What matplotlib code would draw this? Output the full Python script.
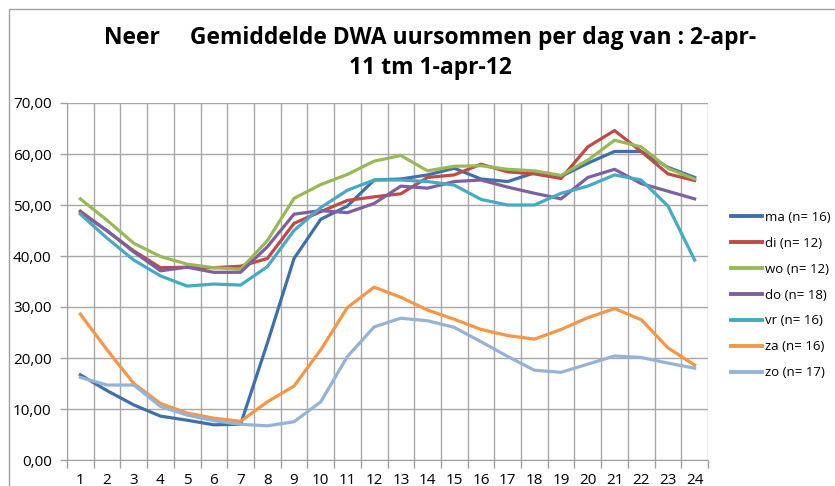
import numpy as np
import matplotlib
matplotlib.use('Agg')
import matplotlib.pyplot as plt
from matplotlib.patches import Rectangle

hours = list(range(1, 25))

ma = [16.7, 13.6, 10.8, 8.6, 7.8, 6.9, 7.0, 22.9, 39.5, 47.2, 49.8, 54.9,
      55.1, 55.9, 57.2, 55.1, 54.6, 56.3, 55.6, 58.2, 60.5, 60.5, 57.4, 55.4]
di = [48.8, 44.9, 41.0, 37.7, 37.8, 37.7, 38.0, 39.5, 46.4, 48.7, 50.9, 51.6,
      52.2, 55.4, 55.9, 58.0, 56.5, 56.1, 55.2, 61.4, 64.6, 60.5, 56.1, 54.8]
wo = [51.2, 47.0, 42.5, 39.9, 38.4, 37.7, 37.4, 43.0, 51.3, 54.0, 56.0, 58.6,
      59.7, 56.7, 57.6, 57.7, 57.0, 56.7, 55.8, 58.8, 62.7, 61.4, 57.2, 55.1]
do = [48.5, 45.0, 40.8, 37.1, 37.8, 36.8, 36.8, 41.8, 48.2, 48.9, 48.5, 50.3,
      53.7, 53.3, 54.6, 54.9, 53.5, 52.3, 51.2, 55.4, 57.0, 54.2, 52.7, 51.2]
vr = [48.2, 43.5, 39.2, 36.1, 34.1, 34.5, 34.3, 37.9, 45.0, 49.5, 52.9, 54.9,
      54.9, 54.6, 53.9, 51.1, 50.0, 50.0, 52.3, 53.7, 55.9, 54.9, 49.8, 39.2]
za = [28.6, 21.6, 15.0, 11.1, 9.2, 8.2, 7.6, 11.4, 14.5, 21.6, 29.9, 33.9,
      31.9, 29.4, 27.6, 25.6, 24.4, 23.7, 25.6, 27.9, 29.7, 27.5, 22.0, 18.6]
zo = [16.2, 14.7, 14.7, 10.5, 8.8, 7.7, 7.0, 6.7, 7.5, 11.4, 20.3, 26.1,
      27.8, 27.3, 26.0, 23.2, 20.3, 17.6, 17.2, 18.8, 20.4, 20.1, 19.0, 18.0]

labels = ['ma (n= 16)', 'di (n= 12)', 'wo (n= 12)', 'do (n= 18)',
          'vr (n= 16)', 'za (n= 16)', 'zo (n= 17)']
colors = ['#3F70AA', '#BE4B48', '#98B954', '#7D60A0', '#46AAC5', '#F79646', '#95B3D7']

plt.rcParams['font.family'] = ['Open Sans', 'DejaVu Sans']

fig = plt.figure(figsize=(8.35, 4.86), dpi=100)
fig.patches.append(Rectangle((9 / 835, -0.1), 1.0, 1 - 9 / 486 + 0.1,
                             transform=fig.transFigure, fill=False,
                             edgecolor='#a0a0a0', linewidth=1))

ax = fig.add_axes([67 / 835, 1 - 460 / 486, (708 - 67) / 835, (460 - 103) / 486])

x = np.arange(len(hours))
for series, lab, c in zip([ma, di, wo, do, vr, za, zo], labels, colors):
    ax.plot(x, series, color=c, linewidth=2.3, label=lab)

ax.set_xlim(-0.5, len(hours) - 0.5)
ax.set_ylim(0, 70)
ax.set_yticks(range(0, 71, 10))
ax.set_yticklabels([f'{v},00' for v in range(0, 71, 10)], fontsize=11)
ax.set_xticks(x)
ax.set_xticklabels([str(h) for h in hours], fontsize=11)
ax.tick_params(axis='x', length=0, pad=9)
ax.set_xticks(np.arange(-0.5, len(hours), 1), minor=True)
ax.tick_params(axis='x', which='minor', length=6, color='#a0a0a0', width=1)
ax.tick_params(axis='y', length=5, color='#a0a0a0', width=1, pad=6)

ax.grid(True, which='minor', axis='x', color='#a8a8a8', linewidth=1)
ax.grid(True, which='major', axis='y', color='#a8a8a8', linewidth=1)
ax.set_axisbelow(True)
for side in ['top', 'right']:
    ax.spines[side].set_visible(False)
ax.spines['left'].set_color('#a0a0a0')
ax.spines['bottom'].set_color('#a0a0a0')

ax.legend(loc='center left', bbox_to_anchor=(1.028, 0.462), frameon=False,
          fontsize=9.5, handlelength=2.3, handletextpad=0.25, labelspacing=0.98,
          borderaxespad=0)
for line in ax.get_legend().get_lines():
    line.set_linewidth(2.8)

fig.text(0.515, 0.891, 'Neer     Gemiddelde DWA uursommen per dag van : 2-apr-\n11 tm 1-apr-12',
         ha='center', va='center', fontsize=16.5, fontweight='bold',
         linespacing=1.3)

fig.savefig('out.png', dpi=100)
